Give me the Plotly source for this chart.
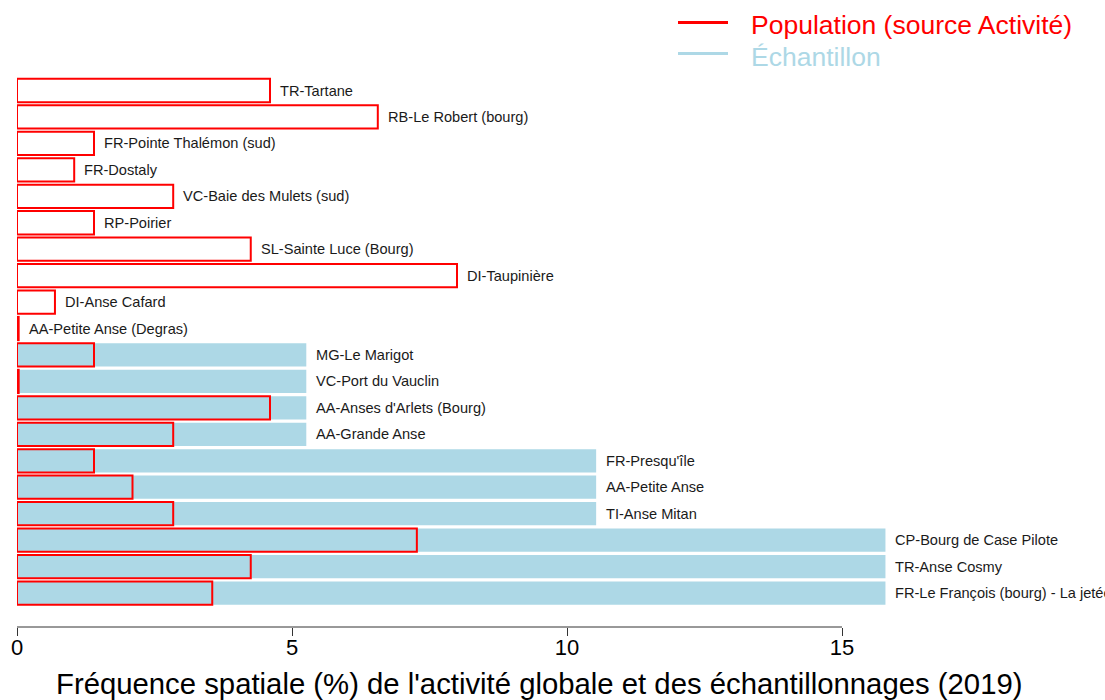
import plotly.graph_objects as go

# Data (top to bottom)
sites = [
    "TR-Tartane", "RB-Le Robert (bourg)", "FR-Pointe Thalémon (sud)", "FR-Dostaly",
    "VC-Baie des Mulets (sud)", "RP-Poirier", "SL-Sainte Luce (Bourg)", "DI-Taupinière",
    "DI-Anse Cafard", "AA-Petite Anse (Degras)", "MG-Le Marigot", "VC-Port du Vauclin",
    "AA-Anses d'Arlets (Bourg)", "AA-Grande Anse", "FR-Presqu'île", "AA-Petite Anse",
    "TI-Anse Mitan", "CP-Bourg de Case Pilote", "TR-Anse Cosmy",
    "FR-Le François (bourg) - La jetée",
]
population = [4.6, 6.56, 1.4, 1.04, 2.84, 1.4, 4.25, 8.0, 0.69, 0.03,
              1.4, 0.03, 4.6, 2.84, 1.4, 2.1, 2.84, 7.27, 4.25, 3.55]
echantillon = [0, 0, 0, 0, 0, 0, 0, 0, 0, 0,
               5.26, 5.26, 5.26, 5.26, 10.53, 10.53, 10.53, 15.79, 15.79, 15.79]
x_ticks = [0, 5, 10, 15]

RED = "#FF0000"
BLUE = "#ADD8E6"
FONT = "Liberation Sans, Arial"

fig = go.Figure()
fig.add_trace(go.Bar(
    y=sites, x=echantillon, orientation="h", width=0.88,
    marker=dict(color=BLUE, line=dict(width=0)), showlegend=False,
))
fig.add_trace(go.Bar(
    y=sites, x=population, orientation="h", width=0.88,
    marker=dict(color="rgba(0,0,0,0)", line=dict(color=RED, width=2)), showlegend=False,
))

annotations = []
for s, p, e in zip(sites, population, echantillon):
    annotations.append(dict(
        x=max(p, e), y=s, xref="x", yref="y", text=s, showarrow=False,
        xanchor="left", yanchor="middle", xshift=8,
        font=dict(family=FONT, size=14.6, color="#1a1a1a"),
    ))

W_PLOT = 1105 - 17
H_PLOT = 627 - 70
def px(xp):
    return (xp - 17) / W_PLOT
def py(yp):
    return (627 - yp) / H_PLOT

shapes = [
    dict(type="line", xref="x", yref="paper", x0=0, x1=15, y0=0, y1=0,
         line=dict(color="#333333", width=1)),
    dict(type="line", xref="paper", yref="paper", x0=px(678), x1=px(728), y0=py(22.5), y1=py(22.5),
         line=dict(color=RED, width=3)),
    dict(type="line", xref="paper", yref="paper", x0=px(678), x1=px(728), y0=py(53.5), y1=py(53.5),
         line=dict(color=BLUE, width=3)),
]
annotations += [
    dict(x=px(749), y=py(25), xref="paper", yref="paper", text="Population (source Activité)",
         showarrow=False, xanchor="left", yanchor="middle",
         font=dict(family=FONT, size=26.5, color=RED)),
    dict(x=px(749), y=py(57), xref="paper", yref="paper", text="Échantillon",
         showarrow=False, xanchor="left", yanchor="middle",
         font=dict(family=FONT, size=26.5, color=BLUE)),
    dict(x=px(538.5), y=py(683), xref="paper", yref="paper",
         text="Fréquence spatiale (%) de l'activité globale et des échantillonnages (2019)",
         showarrow=False, xanchor="center", yanchor="middle",
         font=dict(family=FONT, size=29.3, color="black")),
]

fig.update_layout(
    width=1105, height=700,
    margin=dict(l=17, r=0, t=70, b=73, pad=0),
    paper_bgcolor="white", plot_bgcolor="white",
    barmode="overlay", bargap=0.1,
    showlegend=False,
    shapes=shapes, annotations=annotations,
    xaxis=dict(range=[0, 1088 / 55.0], tickvals=x_ticks, ticktext=[str(t) for t in x_ticks],
               ticks="outside", ticklen=8, tickcolor="#333333", showline=False,
               showgrid=False, zeroline=False, ticklabelstandoff=-7,
               tickfont=dict(family=FONT, size=22, color="black")),
    yaxis=dict(categoryorder="array", categoryarray=sites[::-1],
               range=[-1.285, 19.775], showticklabels=False, ticks="",
               showgrid=False, zeroline=False, showline=False),
)

fig.write_html("out.html", config={"displayModeBar": False},
               post_script="document.body.style.margin='0';")
